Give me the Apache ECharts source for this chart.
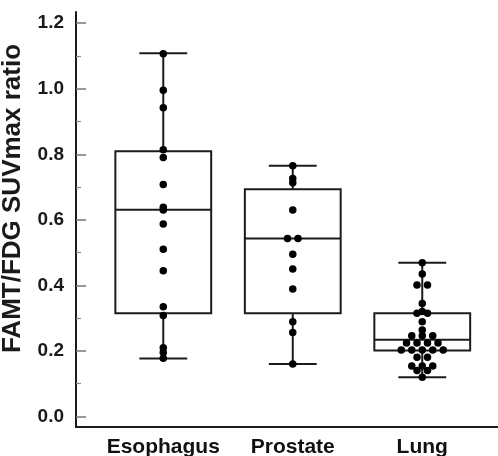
<!DOCTYPE html>
<html>
<head>
<meta charset="utf-8">
<script src="https://cdn.jsdelivr.net/npm/echarts@6/dist/echarts.min.js"></script>
<style>
html, body { margin: 0; padding: 0; background: #fff; }
#chart { width: 498px; height: 456px; }
</style>
</head>
<body>
<div id="chart"></div>
<script>
// data
var categories = ['Esophagus', 'Prostate', 'Lung'];
// [min, Q1, median, Q3, max]
var boxStats = [
    [0.177, 0.315, 0.631, 0.809, 1.108],
    [0.160, 0.315, 0.543, 0.693, 0.765],
    [0.120, 0.201, 0.234, 0.315, 0.469]
];
var esophagusValues = [1.107, 0.995, 0.942, 0.814, 0.790, 0.708, 0.638, 0.630, 0.587,
    0.510, 0.445, 0.335, 0.308, 0.210, 0.195, 0.178];
var prostateValues = [0.765, 0.726, 0.713, 0.630, 0.543, 0.543, 0.495, 0.450, 0.389,
    0.289, 0.256, 0.160];
var lungValues = [0.469, 0.435, 0.401, 0.401, 0.345, 0.320, 0.315, 0.315, 0.289, 0.264,
    0.246, 0.246, 0.246, 0.224, 0.224, 0.224, 0.224,
    0.203, 0.203, 0.203, 0.203, 0.203, 0.181, 0.181,
    0.154, 0.154, 0.154, 0.140, 0.140, 0.120];
var yTicks = [0, 0.2, 0.4, 0.6, 0.8, 1.0, 1.2];
var yMinorTicks = [0.1, 0.3, 0.5, 0.7, 0.9, 1.1];

var BOX_WIDTH = 0.74;   // in x units
var CAP_WIDTH = 0.37;
var DOT_STEP = 0.081;   // horizontal spacing of dots sharing a row
var LINE_COLOR = '#1c1c1c';
var FONT = '"Liberation Sans", Arial, sans-serif';

// simple swarm: dots with the same value are spread side by side
function swarm(values, center) {
    var counts = {};
    values.forEach(function (v) { counts[v] = (counts[v] || 0) + 1; });
    var seen = {};
    return values.map(function (v) {
        var n = counts[v];
        var i = seen[v] || 0;
        seen[v] = i + 1;
        return [center + (i - (n - 1) / 2) * DOT_STEP, v];
    });
}

var dots = []
    .concat(swarm(esophagusValues, 1))
    .concat(swarm(prostateValues, 2))
    .concat(swarm(lungValues, 3));

function renderBox(params, api) {
    var x = api.value(0);
    var pMin = api.coord([x, api.value(1)]);
    var pQ1 = api.coord([x, api.value(2)]);
    var pMed = api.coord([x, api.value(3)]);
    var pQ3 = api.coord([x, api.value(4)]);
    var pMax = api.coord([x, api.value(5)]);
    var halfBox = api.size([BOX_WIDTH, 0])[0] / 2;
    var halfCap = api.size([CAP_WIDTH, 0])[0] / 2;
    var style = { stroke: LINE_COLOR, lineWidth: 2, fill: null };
    function line(x1, y1, x2, y2) {
        return { type: 'line', shape: { x1: x1, y1: y1, x2: x2, y2: y2 }, style: style };
    }
    return {
        type: 'group',
        children: [
            {
                type: 'rect',
                shape: { x: pQ3[0] - halfBox, y: pQ3[1], width: halfBox * 2, height: pQ1[1] - pQ3[1] },
                style: { stroke: LINE_COLOR, lineWidth: 2, fill: 'rgba(0,0,0,0)' }
            },
            line(pMed[0] - halfBox, pMed[1], pMed[0] + halfBox, pMed[1]),
            line(pQ3[0], pQ3[1], pMax[0], pMax[1]),
            line(pMax[0] - halfCap, pMax[1], pMax[0] + halfCap, pMax[1]),
            line(pQ1[0], pQ1[1], pMin[0], pMin[1]),
            line(pMin[0] - halfCap, pMin[1], pMin[0] + halfCap, pMin[1])
        ]
    };
}

var chart = echarts.init(document.getElementById('chart'));
chart.setOption({
    animation: false,
    grid: { left: 76, right: 0, top: 12, bottom: 29, outerBoundsMode: 'none', containLabel: false },
    xAxis: {
        type: 'value',
        min: 0.326,
        max: 3.585,
        axisLine: { show: true, onZero: false, lineStyle: { color: LINE_COLOR, width: 2 } },
        axisTick: { show: false },
        splitLine: { show: false },
        axisLabel: {
            customValues: [1, 2, 3],
            formatter: function (v) { return categories[Math.round(v) - 1]; },
            fontFamily: FONT,
            fontWeight: 'bold',
            fontSize: 21,
            color: '#111',
            margin: 10
        }
    },
    yAxis: [
        {
            type: 'value',
            position: 'left',
            min: -0.032,
            max: 1.234,
            axisLine: { show: true, onZero: false, lineStyle: { color: LINE_COLOR, width: 2 } },
            axisTick: { inside: true, length: 10, customValues: yTicks, lineStyle: { color: '#777', width: 1.5 } },
            splitLine: { show: false },
            axisLabel: {
                customValues: yTicks,
                formatter: function (v) { return v.toFixed(1); },
                fontFamily: FONT,
                fontWeight: 'bold',
                fontSize: 19,
                color: '#1a1a1a',
                margin: 12
            },
            name: 'FAMT/FDG SUVmax ratio',
            nameLocation: 'middle',
            nameRotate: 90,
            nameGap: 50,
            nameTextStyle: {
                fontFamily: FONT,
                fontWeight: 'bold',
                fontSize: 26,
                color: '#1a1a1a',
                padding: [0, 0, 0, 42]
            }
        },
        {
            type: 'value',
            position: 'left',
            min: -0.032,
            max: 1.234,
            axisLine: { show: false },
            axisTick: { inside: true, length: 5, customValues: yMinorTicks, lineStyle: { color: '#888', width: 1.2 } },
            axisLabel: { show: false },
            splitLine: { show: false }
        }
    ],
    series: [
        {
            type: 'custom',
            name: 'box',
            renderItem: renderBox,
            encode: { x: 0, y: [1, 2, 3, 4, 5] },
            data: boxStats.map(function (s, i) { return [i + 1].concat(s); }),
            z: 2
        },
        {
            type: 'scatter',
            name: 'points',
            symbol: 'circle',
            symbolSize: 7.5,
            itemStyle: { color: '#000', opacity: 1 },
            data: dots,
            z: 3
        }
    ]
});
</script>
</body>
</html>
